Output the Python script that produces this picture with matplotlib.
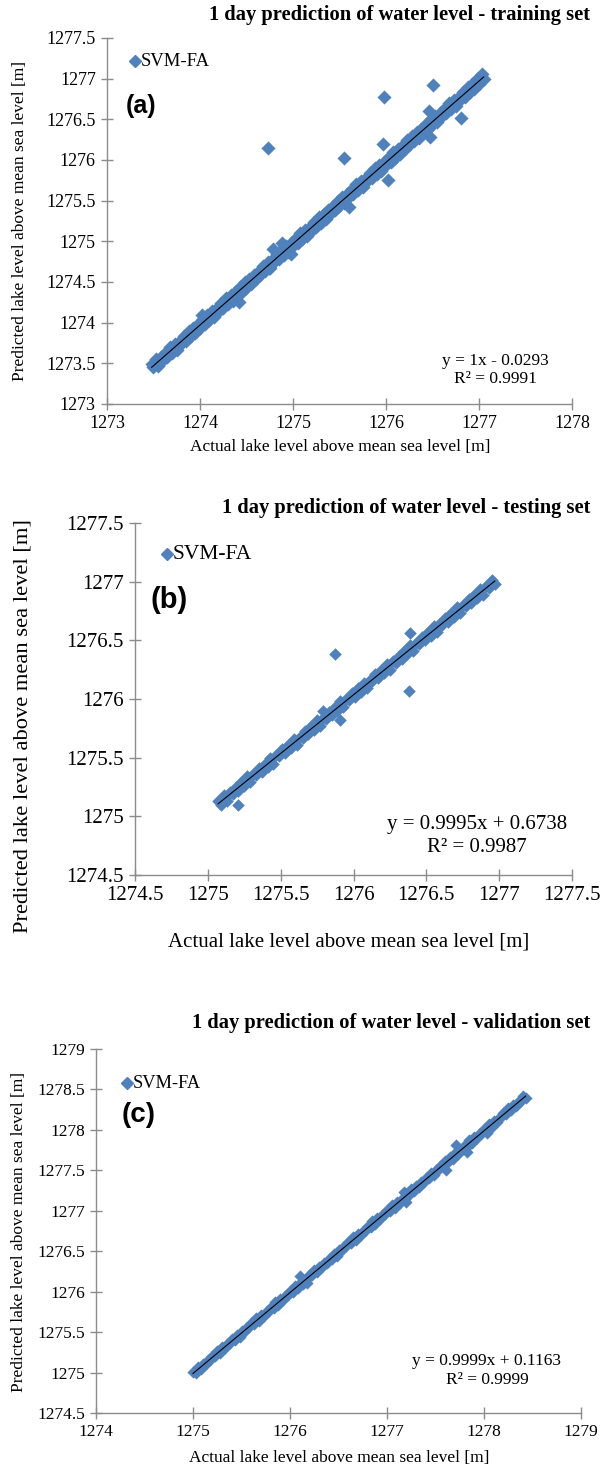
import matplotlib
matplotlib.use("Agg")
import matplotlib.pyplot as plt
import numpy as np

plt.rcParams['font.family'] = ['Liberation Serif', 'DejaVu Serif']

# ---- panel (a): training set (two rows of the dense band + scattered points) ----
train_x1 = [1273.48, 1273.53, 1273.58, 1273.63, 1273.68, 1273.73, 1273.78, 1273.83, 1273.88, 1273.93,
            1273.98, 1274.03, 1274.08, 1274.13, 1274.18, 1274.23, 1274.28, 1274.33, 1274.38, 1274.43,
            1274.48, 1274.53, 1274.58, 1274.63, 1274.68, 1274.73, 1274.78, 1274.83, 1274.88, 1274.93,
            1274.98, 1275.03, 1275.08, 1275.13, 1275.18, 1275.23, 1275.28, 1275.33, 1275.38, 1275.43,
            1275.48, 1275.53, 1275.58, 1275.63, 1275.68, 1275.73, 1275.78, 1275.83, 1275.88, 1275.93,
            1275.98, 1276.03, 1276.08, 1276.13, 1276.18, 1276.23, 1276.28, 1276.33, 1276.38, 1276.43,
            1276.48, 1276.53, 1276.58, 1276.63, 1276.68, 1276.73, 1276.78, 1276.83, 1276.88, 1276.93,
            1276.98, 1277.03]
train_y1 = [1273.49, 1273.55, 1273.58, 1273.64, 1273.70, 1273.74, 1273.78, 1273.84, 1273.90, 1273.94,
            1273.98, 1274.04, 1274.10, 1274.14, 1274.18, 1274.24, 1274.30, 1274.34, 1274.38, 1274.44,
            1274.50, 1274.54, 1274.58, 1274.64, 1274.70, 1274.74, 1274.78, 1274.84, 1274.90, 1274.94,
            1274.98, 1275.04, 1275.10, 1275.14, 1275.18, 1275.24, 1275.30, 1275.34, 1275.38, 1275.44,
            1275.50, 1275.54, 1275.58, 1275.64, 1275.70, 1275.74, 1275.78, 1275.84, 1275.90, 1275.94,
            1275.98, 1276.04, 1276.10, 1276.14, 1276.18, 1276.24, 1276.30, 1276.34, 1276.38, 1276.44,
            1276.50, 1276.54, 1276.58, 1276.64, 1276.70, 1276.74, 1276.78, 1276.84, 1276.90, 1276.94,
            1276.99, 1277.06]
train_x2 = [1273.50, 1273.55, 1273.60, 1273.65, 1273.70, 1273.75, 1273.80, 1273.85, 1273.90, 1273.95,
            1274.00, 1274.05, 1274.10, 1274.15, 1274.20, 1274.25, 1274.30, 1274.35, 1274.40, 1274.45,
            1274.50, 1274.55, 1274.60, 1274.65, 1274.70, 1274.75, 1274.80, 1274.85, 1274.90, 1274.95,
            1275.00, 1275.05, 1275.10, 1275.15, 1275.20, 1275.25, 1275.30, 1275.35, 1275.40, 1275.45,
            1275.50, 1275.55, 1275.60, 1275.65, 1275.70, 1275.75, 1275.80, 1275.85, 1275.90, 1275.95,
            1276.00, 1276.05, 1276.10, 1276.15, 1276.20, 1276.25, 1276.30, 1276.35, 1276.40, 1276.45,
            1276.50, 1276.55, 1276.60, 1276.65, 1276.70, 1276.75, 1276.80, 1276.85, 1276.90, 1276.95,
            1277.00, 1277.05]
train_y2 = [1273.46, 1273.47, 1273.54, 1273.58, 1273.63, 1273.67, 1273.74, 1273.78, 1273.83, 1273.87,
            1273.94, 1273.98, 1274.03, 1274.07, 1274.14, 1274.18, 1274.23, 1274.27, 1274.34, 1274.38,
            1274.43, 1274.47, 1274.54, 1274.58, 1274.63, 1274.67, 1274.74, 1274.78, 1274.83, 1274.87,
            1274.94, 1274.98, 1275.03, 1275.07, 1275.14, 1275.18, 1275.23, 1275.27, 1275.34, 1275.38,
            1275.43, 1275.47, 1275.54, 1275.58, 1275.63, 1275.67, 1275.74, 1275.78, 1275.83, 1275.87,
            1275.94, 1275.98, 1276.03, 1276.07, 1276.14, 1276.18, 1276.23, 1276.27, 1276.34, 1276.38,
            1276.43, 1276.47, 1276.54, 1276.58, 1276.63, 1276.67, 1276.74, 1276.78, 1276.83, 1276.87,
            1276.94, 1277.00]
train_xo = [1274.73, 1275.55, 1275.97, 1276.02, 1275.60, 1276.47, 1275.98, 1276.51, 1276.81,
            1274.78, 1274.88, 1274.98, 1274.74, 1274.42, 1274.02, 1275.20, 1276.46]
train_yo = [1276.15, 1276.02, 1276.20, 1275.76, 1275.42, 1276.28, 1276.78, 1276.92, 1276.52,
            1274.90, 1274.98, 1274.85, 1274.67, 1274.25, 1274.10, 1275.14, 1276.60]
train_fit = (1.0, -0.0293)

# ---- panel (b): testing set ----
test_x1 = [1275.07, 1275.11, 1275.15, 1275.19, 1275.23, 1275.27, 1275.31, 1275.35, 1275.39, 1275.43,
           1275.47, 1275.51, 1275.55, 1275.59, 1275.63, 1275.67, 1275.71, 1275.75, 1275.79, 1275.83,
           1275.87, 1275.91, 1275.95, 1275.99, 1276.03, 1276.07, 1276.11, 1276.15, 1276.19, 1276.23,
           1276.27, 1276.31, 1276.35, 1276.39, 1276.43, 1276.47, 1276.51, 1276.55, 1276.59, 1276.63,
           1276.67, 1276.71, 1276.75, 1276.79, 1276.83, 1276.87, 1276.91, 1276.95]
test_y1 = [1275.13, 1275.18, 1275.20, 1275.25, 1275.29, 1275.34, 1275.36, 1275.41, 1275.45, 1275.50,
           1275.52, 1275.57, 1275.61, 1275.66, 1275.68, 1275.73, 1275.77, 1275.82, 1275.84, 1275.89,
           1275.93, 1275.98, 1276.00, 1276.05, 1276.09, 1276.14, 1276.16, 1276.21, 1276.25, 1276.30,
           1276.32, 1276.37, 1276.41, 1276.46, 1276.48, 1276.53, 1276.57, 1276.62, 1276.64, 1276.69,
           1276.73, 1276.78, 1276.80, 1276.85, 1276.89, 1276.94, 1276.96, 1277.01]
test_x2 = [1275.09, 1275.13, 1275.17, 1275.21, 1275.25, 1275.29, 1275.33, 1275.37, 1275.41, 1275.45,
           1275.49, 1275.53, 1275.57, 1275.61, 1275.65, 1275.69, 1275.73, 1275.77, 1275.81, 1275.85,
           1275.89, 1275.93, 1275.97, 1276.01, 1276.05, 1276.09, 1276.13, 1276.17, 1276.21, 1276.25,
           1276.29, 1276.33, 1276.37, 1276.41, 1276.45, 1276.49, 1276.53, 1276.57, 1276.61, 1276.65,
           1276.69, 1276.73, 1276.77, 1276.81, 1276.85, 1276.89, 1276.93, 1276.97]
test_y2 = [1275.10, 1275.13, 1275.19, 1275.22, 1275.26, 1275.29, 1275.35, 1275.38, 1275.42, 1275.45,
           1275.51, 1275.54, 1275.58, 1275.61, 1275.67, 1275.70, 1275.74, 1275.77, 1275.83, 1275.86,
           1275.90, 1275.93, 1275.99, 1276.02, 1276.06, 1276.09, 1276.15, 1276.18, 1276.22, 1276.25,
           1276.31, 1276.34, 1276.38, 1276.41, 1276.47, 1276.50, 1276.54, 1276.57, 1276.63, 1276.66,
           1276.70, 1276.73, 1276.79, 1276.82, 1276.86, 1276.89, 1276.95, 1276.98]
test_xo = [1275.87, 1276.39, 1276.38, 1275.79, 1275.91, 1275.21, 1275.15, 1275.53]
test_yo = [1276.38, 1276.56, 1276.07, 1275.90, 1275.82, 1275.10, 1275.21, 1275.56]
test_fit = (0.9995, 0.6738)

# ---- panel (c): validation set ----
valid_x1 = [1275.00, 1275.05, 1275.10, 1275.15, 1275.20, 1275.25, 1275.30, 1275.35, 1275.40, 1275.45,
            1275.50, 1275.55, 1275.60, 1275.65, 1275.70, 1275.75, 1275.80, 1275.85, 1275.90, 1275.95,
            1276.00, 1276.05, 1276.10, 1276.15, 1276.20, 1276.25, 1276.30, 1276.35, 1276.40, 1276.45,
            1276.50, 1276.55, 1276.60, 1276.65, 1276.70, 1276.75, 1276.80, 1276.85, 1276.90, 1276.95,
            1277.00, 1277.05, 1277.10, 1277.15, 1277.20, 1277.25, 1277.30, 1277.35, 1277.40, 1277.45,
            1277.50, 1277.55, 1277.60, 1277.65, 1277.70, 1277.75, 1277.80, 1277.85, 1277.90, 1277.95,
            1278.00, 1278.05, 1278.10, 1278.15, 1278.20, 1278.25, 1278.30, 1278.35, 1278.40]
valid_y1 = [1275.01, 1275.07, 1275.11, 1275.15, 1275.21, 1275.27, 1275.31, 1275.35, 1275.41, 1275.47,
            1275.51, 1275.55, 1275.61, 1275.67, 1275.71, 1275.75, 1275.81, 1275.87, 1275.91, 1275.95,
            1276.01, 1276.07, 1276.11, 1276.15, 1276.21, 1276.27, 1276.31, 1276.35, 1276.41, 1276.47,
            1276.51, 1276.55, 1276.61, 1276.67, 1276.71, 1276.75, 1276.81, 1276.87, 1276.91, 1276.95,
            1277.01, 1277.07, 1277.11, 1277.15, 1277.21, 1277.27, 1277.31, 1277.35, 1277.41, 1277.47,
            1277.51, 1277.55, 1277.61, 1277.67, 1277.71, 1277.75, 1277.81, 1277.87, 1277.91, 1277.95,
            1278.01, 1278.07, 1278.11, 1278.15, 1278.21, 1278.27, 1278.31, 1278.35, 1278.42]
valid_x2 = [1275.03, 1275.08, 1275.13, 1275.18, 1275.23, 1275.28, 1275.33, 1275.38, 1275.43, 1275.48,
            1275.53, 1275.58, 1275.63, 1275.68, 1275.73, 1275.78, 1275.83, 1275.88, 1275.93, 1275.98,
            1276.03, 1276.08, 1276.13, 1276.18, 1276.23, 1276.28, 1276.33, 1276.38, 1276.43, 1276.48,
            1276.53, 1276.58, 1276.63, 1276.68, 1276.73, 1276.78, 1276.83, 1276.88, 1276.93, 1276.98,
            1277.03, 1277.08, 1277.13, 1277.18, 1277.23, 1277.28, 1277.33, 1277.38, 1277.43, 1277.48,
            1277.53, 1277.58, 1277.63, 1277.68, 1277.73, 1277.78, 1277.83, 1277.88, 1277.93, 1277.98,
            1278.03, 1278.08, 1278.13, 1278.18, 1278.23, 1278.28, 1278.33, 1278.38, 1278.43]
valid_y2 = [1275.00, 1275.04, 1275.10, 1275.16, 1275.20, 1275.24, 1275.30, 1275.36, 1275.40, 1275.44,
            1275.50, 1275.56, 1275.60, 1275.64, 1275.70, 1275.76, 1275.80, 1275.84, 1275.90, 1275.96,
            1276.00, 1276.04, 1276.10, 1276.16, 1276.20, 1276.24, 1276.30, 1276.36, 1276.40, 1276.44,
            1276.50, 1276.56, 1276.60, 1276.64, 1276.70, 1276.76, 1276.80, 1276.84, 1276.90, 1276.96,
            1277.00, 1277.04, 1277.10, 1277.16, 1277.20, 1277.24, 1277.30, 1277.36, 1277.40, 1277.44,
            1277.50, 1277.56, 1277.60, 1277.64, 1277.70, 1277.76, 1277.80, 1277.84, 1277.90, 1277.96,
            1278.00, 1278.04, 1278.10, 1278.16, 1278.20, 1278.24, 1278.30, 1278.36, 1278.40]
valid_xo = [1277.71, 1277.82, 1277.61, 1277.18, 1277.20, 1278.03, 1276.18, 1276.10]
valid_yo = [1277.81, 1277.73, 1277.51, 1277.23, 1277.11, 1277.96, 1276.11, 1276.19]
valid_fit = (0.9999, 0.1163)

W, H = 602, 1469
fig = plt.figure(figsize=(W / 100, H / 100), dpi=100)

BLUE = '#4F81BD'
GRAY = '#8c8c8c'


def px_axes(left, top, right, bottom):
    return fig.add_axes([left / W, 1 - bottom / H, (right - left) / W, (bottom - top) / H])


def ftext(x, y, s, **kw):
    fig.text(x / W, 1 - y / H, s, **kw)


panels = [
    dict(box=(107, 38, 572, 404), xlim=(1273, 1278), ylim=(1273, 1277.5), xstep=1, ystep=0.5,
         x=train_x1 + train_x2 + train_xo, y=train_y1 + train_y2 + train_yo, fit=train_fit,
         tick_fs=13, ms=7.2,
         title="1 day prediction of water level - training set", title_y=15,
         leg_xy=(135, 61), leg_fs=13.4, tag="(a)", tag_xy=(126, 106), tag_fs=18,
         eq="y = 1x - 0.0293", r2="R² = 0.9991", eq_xy=(495, 361), r2_xy=(495, 379), eq_fs=12.5,
         xlab_xy=(340, 447), xlab_fs=12.5, ylab_xy=(20, 221), ylab_fs=12.5),
    dict(box=(135, 523, 572, 875), xlim=(1274.5, 1277.5), ylim=(1274.5, 1277.5), xstep=0.5, ystep=0.5,
         x=test_x1 + test_x2 + test_xo, y=test_y1 + test_y2 + test_yo, fit=test_fit,
         tick_fs=15, ms=6.4,
         title="1 day prediction of water level - testing set", title_y=508,
         leg_xy=(167, 554), leg_fs=15.5, tag="(b)", tag_xy=(150, 600), tag_fs=21,
         eq="y = 0.9995x + 0.6738", r2="R² = 0.9987", eq_xy=(477, 824), r2_xy=(477, 847), eq_fs=15,
         xlab_xy=(349, 942), xlab_fs=15, ylab_xy=(23, 726), ylab_fs=16.2),
    dict(box=(96, 1049, 581, 1413), xlim=(1274, 1279), ylim=(1274.5, 1279), xstep=1, ystep=0.5,
         x=valid_x1 + valid_x2 + valid_xo, y=valid_y1 + valid_y2 + valid_yo, fit=valid_fit,
         tick_fs=12.5, ms=6.2,
         title="1 day prediction of water level - validation set", title_y=1023,
         leg_xy=(127, 1083), leg_fs=13.2, tag="(c)", tag_xy=(122, 1115), tag_fs=20,
         eq="y = 0.9999x + 0.1163", r2="R² = 0.9999", eq_xy=(487, 1361), r2_xy=(487, 1380), eq_fs=12.5,
         xlab_xy=(339, 1458), xlab_fs=12.5, ylab_xy=(19, 1232), ylab_fs=12.5),
]

for p in panels:
    ax = px_axes(*p['box'])
    ax.scatter(p['x'], p['y'], marker='D', s=p['ms'] ** 2, color=BLUE, linewidths=0, zorder=2)
    xs = np.array([min(p['x']), max(p['x'])])
    slope, icpt = p['fit']
    ax.plot(xs, slope * xs + icpt, color='black', lw=0.8, zorder=3)

    ax.set_xlim(*p['xlim'])
    ax.set_ylim(*p['ylim'])
    ax.set_xticks(np.arange(p['xlim'][0], p['xlim'][1] + 1e-9, p['xstep']))
    ax.set_yticks(np.arange(p['ylim'][0], p['ylim'][1] + 1e-9, p['ystep']))
    ax.xaxis.set_major_formatter(plt.FuncFormatter(lambda v, _: ('%g' % v)))
    ax.yaxis.set_major_formatter(plt.FuncFormatter(lambda v, _: ('%g' % v)))
    for s in ['top', 'right']:
        ax.spines[s].set_visible(False)
    for s in ['left', 'bottom']:
        ax.spines[s].set_color(GRAY)
        ax.spines[s].set_linewidth(1.0)
    ax.tick_params(direction='inout', length=8, width=1.0, color=GRAY,
                   labelsize=p['tick_fs'], pad=4)
    ax.set_facecolor('none')

    ftext(590, p['title_y'], p['title'], ha='right', va='center',
          fontsize=14.8, fontweight='bold')
    # legend marker + label
    lx, ly = p['leg_xy']
    fig.lines.append(plt.Line2D([lx / W], [1 - ly / H], marker='D', ms=6, color=BLUE,
                                linestyle='none', transform=fig.transFigure))
    ftext(lx + 6, ly, "SVM-FA", ha='left', va='center', fontsize=p['leg_fs'])
    ftext(p['tag_xy'][0], p['tag_xy'][1], p['tag'], ha='left', va='center',
          fontsize=p['tag_fs'], fontweight='bold', family='Liberation Sans')
    ftext(p['eq_xy'][0], p['eq_xy'][1], p['eq'], ha='center', va='center', fontsize=p['eq_fs'])
    ftext(p['r2_xy'][0], p['r2_xy'][1], p['r2'], ha='center', va='center', fontsize=p['eq_fs'])
    ftext(p['xlab_xy'][0], p['xlab_xy'][1], "Actual lake level above mean sea level [m]",
          ha='center', va='center', fontsize=p['xlab_fs'])
    ftext(p['ylab_xy'][0], p['ylab_xy'][1], "Predicted lake level above mean sea level [m]",
          ha='center', va='center', rotation=90, fontsize=p['ylab_fs'])

fig.savefig("out.png", dpi=100)
